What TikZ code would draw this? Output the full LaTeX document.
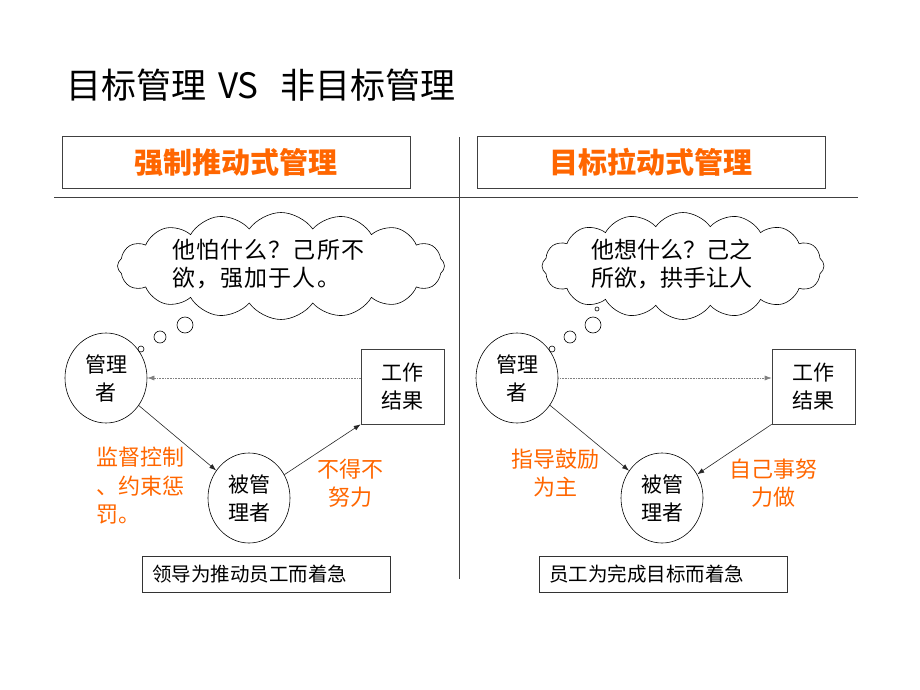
\documentclass[tikz,border=0pt]{standalone}
\usepackage{fontspec}
\newfontfamily\cjk{Noto Sans CJK SC}
\usepackage{xcolor}
\usetikzlibrary{positioning,arrows.meta,shapes.geometric,shapes.symbols}
\definecolor{mgmtorange}{RGB}{255,102,0}
\newcommand{\fs}[2]{\fontsize{#1}{#2}\selectfont}

\begin{document}
\begin{tikzpicture}[
  x=1pt, y=-1pt,
  every node/.style={font=\cjk, inner sep=0pt},
  headbox/.style={draw=black!75, minimum width=348pt, minimum height=52pt,
    text=mgmtorange, font=\cjk\bfseries\fs{29}{32}},
  thought/.style={cloud, cloud puffs=16, cloud puff arc=110, cloud ignores aspect,
    draw=black, line width=0.6pt},
  thinktext/.style={align=left, font=\cjk\fs{23}{28}},
  bubble/.style={circle, draw=black, line width=0.6pt},
  person/.style={ellipse, draw=black, line width=0.6pt, minimum width=82pt,
    minimum height=90pt, align=center, font=\cjk\fs{21}{28}},
  result/.style={draw=black!75, line width=0.6pt, minimum width=83pt,
    minimum height=75pt, align=center, font=\cjk\fs{21}{28}},
  remark/.style={text=mgmtorange, font=\cjk\fs{22}{28.5}},
  note/.style={draw=black!80, line width=1pt, text width=228pt, inner xsep=10pt,
    minimum height=36pt, align=left, font=\cjk\fs{19.5}{22}},
  link/.style={-{Latex[length=7pt,width=5pt]}, black!85, line width=0.6pt},
  feedback/.style={link, gray, densely dotted}
]
\useasboundingbox (0,0) rectangle (920,690);

% heading and frame
\node (title) [anchor=west, font=\cjk\fs{35}{37}] at (66,85)
  {目标管理\hspace{12pt}VS\hspace{22pt}非目标管理};
\draw[black!75, line width=0.6pt] (54,197) -- (858,197);
\draw[black!75, line width=0.6pt] (459,137) -- (459,579);

\node (headL) [headbox] at (236,162) {强制推动式管理};
\node (headR) [headbox] at (651,162) {目标拉动式管理};

% left: push management
\node (cloudL) [thought, minimum width=327pt, minimum height=107pt] at (281,266) {};
\node (thinkL) [thinktext, anchor=west, font=\cjk\fs{23}{28}\addfontfeature{LetterSpace=5}]
  at (172,264) {他怕什么？己所不\\欲，强加于人。};
\node (bubL1) [bubble, minimum size=16pt] at (185,325) {};
\node (bubL2) [bubble, minimum size=12pt] at (160,337) {};
\node (bubL3) [bubble, minimum size=6pt] at (141,349) {};

\node (mgrL) [person] at (106,378) {管理\\者};
\node (resL) [result] at (402.5,386.5) {工作\\结果};
\node (subL) [person] at (249,498) {被管\\理者};

\draw[feedback] (resL.west |- mgrL.east) -- (mgrL.east);
\draw[link] (mgrL) -- (subL);
\draw[link] (subL) -- (resL.south west);

\node (ordL) [remark, anchor=west, align=left] at (96,486) {监督控制\\、约束惩\\罚。};
\node (effL) [remark, align=center] at (350,483) {不得不\\努力};
\node (noteL) [note] at (266,574) {领导为推动员工而着急};

% right: pull management
\node (cloudR) [thought, minimum width=282pt, minimum height=107pt] at (683,266) {};
\node (thinkR) [thinktext, anchor=west] at (591,264) {他想什么？己之\\所欲，拱手让人};
\node (bubR1) [bubble, minimum size=16pt] at (593,325) {};
\node (bubR2) [bubble, minimum size=12pt] at (570,337) {};
\node (bubR3) [bubble, minimum size=6pt] at (552,349) {};
\node (bubR4) [bubble, minimum size=4pt] at (597,309) {};

\node (mgrR) [person] at (517,378) {管理\\者};
\node (resR) [result] at (813.5,386.5) {工作\\结果};
\node (subR) [person] at (662,498) {被管\\理者};

\draw[feedback] (mgrR.east) -- (resR.west |- mgrR.east);
\draw[link] (mgrR) -- (subR);
\draw[link] (resR.south west) -- (subR);

\node (ordR) [remark, align=center] at (555,473) {指导鼓励\\为主};
\node (effR) [remark, align=center] at (773,483) {自己事努\\力做};
\node (noteR) [note] at (663,574) {员工为完成目标而着急};

\end{tikzpicture}
\end{document}
